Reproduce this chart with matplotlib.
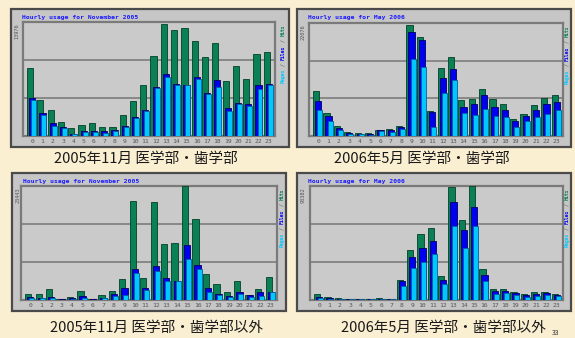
import matplotlib
matplotlib.use('Agg')
import numpy as np
import matplotlib.pyplot as plt
from matplotlib.patches import Rectangle

### Data (bar heights, percent of the axis top)
hours = list(range(24))

nov05_med_hits  = [60, 32, 23, 12.5, 7, 10, 11, 8, 8, 18, 31, 45, 70, 98, 93, 95, 83, 69, 82, 48, 61, 50, 72, 74]
nov05_med_files = [33, 20, 11, 7.5, 2, 4, 4, 4, 5, 8.6, 17, 23, 43, 54, 46, 45, 52, 38, 49, 25, 29, 28, 44.5, 46]
nov05_med_pages = [32, 18, 9, 7, 1.5, 3.6, 3.3, 3, 4.5, 8, 16, 22, 42, 52, 45, 45, 50, 37, 43, 22, 28, 26, 41, 45]

may06_med_hits  = [40, 20, 9, 3.6, 2.7, 2.4, 5.7, 6.3, 9, 98, 88, 22, 60, 70, 32, 32.5, 41.5, 33, 28, 15, 19.7, 27, 34, 36.4]
may06_med_files = [31, 18, 7, 2.7, 2, 1.8, 5, 5, 8, 92, 85, 21.5, 51, 59, 26, 28, 36, 26, 23, 13.4, 18, 23, 28, 30]
may06_med_pages = [23, 13, 5.7, 2, 1.5, 1.2, 4, 3.6, 6, 68, 61, 8, 38, 50, 20, 19, 24, 18, 16.4, 8.4, 13.4, 17, 19.7, 22.7]

nov05_oth_hits  = [5, 5, 9.6, 1, 2.4, 8, 1, 4, 8, 18.6, 87, 19.5, 86, 49.5, 50, 100, 71, 22.5, 13.8, 7.2, 16.8, 4.8, 10, 19.8]
nov05_oth_files = [2.7, 2, 2.7, 0.6, 1.5, 3.3, 0.6, 2, 5, 10.5, 27, 10.5, 29.4, 19, 17, 48.6, 31, 10.5, 5.7, 3.6, 6.6, 4.8, 7, 7]
nov05_oth_pages = [2, 1.5, 2, 0.3, 0.8, 2, 0.3, 1.5, 3.3, 4.5, 24, 8.4, 25.8, 16.5, 16.5, 36, 27, 7.2, 4.5, 2.7, 5, 2.7, 3.9, 7]

may06_oth_hits  = [5, 2.7, 1.8, 0.6, 0.6, 0.6, 1.5, 1, 17.8, 43.7, 57.5, 63, 21, 99, 70.5, 100, 26.8, 9.6, 10, 7, 5.7, 7.2, 7.2, 5]
may06_oth_files = [2.7, 1.8, 1.2, 0.6, 0.6, 0.6, 1.2, 0.8, 16.6, 37.3, 45.8, 52, 17.5, 86, 61.4, 82, 22.3, 7.5, 7.5, 6, 4.8, 5.4, 6.3, 4.8]
may06_oth_pages = [2, 1.2, 1, 0.6, 0.6, 0.6, 0.5, 0.5, 12.7, 28, 33.4, 40, 13.9, 65, 45.5, 64.5, 16.9, 5.7, 6, 4.5, 3, 3.9, 4.2, 3.3]

titles   = ['Hourly usage for November 2005', 'Hourly usage for May 2006',
            'Hourly usage for November 2005', 'Hourly usage for May 2006']
max_lbls = ['13976', '22076', '23443', '93382']
captions = ['2005年11月 医学部・歯学部', '2006年5月 医学部・歯学部',
            '2005年11月 医学部・歯学部以外', '2006年5月 医学部・歯学部以外']

panels = [
    (nov05_med_hits, nov05_med_files, nov05_med_pages),
    (may06_med_hits, may06_med_files, may06_med_pages),
    (nov05_oth_hits, nov05_oth_files, nov05_oth_pages),
    (may06_oth_hits, may06_oth_files, may06_oth_pages),
]

### Layout in pixels: frame (x0, y0, x1, y1), plot area (x0, y0, x1, y1), caption centre
W, H = 575, 338
frames = [(11, 9, 289, 147), (297, 9, 571, 147), (12, 173, 286, 311), (297, 173, 571, 311)]
plots  = [(23, 22, 275, 136), (309, 23, 563, 136), (21, 186, 277, 300), (310, 186, 563, 300)]
leg_x  = [283, 567, 282, 567]
caps   = [(146, 159), (422, 159), (157, 328), (443, 328)]

HIT_C, FILE_C, PAGE_C = '#0b8055', '#0000f0', '#00c8ff'
BG = '#fbefd2'

plt.rcParams['font.family'] = ['Noto Sans CJK JP', 'DejaVu Sans']

fig = plt.figure(figsize=(W/100, H/100), dpi=100)
fig.patch.set_facecolor(BG)


def fx(x):
    return x / W


def fy(y):
    return 1 - y / H


LEG_FS = 3.5
CHAR_PX = 0.6 * LEG_FS * 100 / 72   # width of one mono character in pixels

for k in range(4):
    hits, files, pages = panels[k]
    x0, y0, x1, y1 = frames[k]
    # outer webalizer frame
    fig.patches.append(Rectangle((fx(x0), fy(y1)), fx(x1 - x0), (y1 - y0)/H,
                                 transform=fig.transFigure, facecolor='#c6c6c6',
                                 edgecolor='#4a4a4a', linewidth=1.6, zorder=0))
    px0, py0, px1, py1 = plots[k]
    ax = fig.add_axes([fx(px0), fy(py1), fx(px1 - px0), (py1 - py0)/H])
    ax.set_zorder(2)
    ax.set_facecolor('#cacaca')
    for s in ax.spines.values():
        s.set_color('#7a7a7a')
        s.set_linewidth(1.6)

    h = np.array(hours)
    ax.bar(h, hits, width=0.6, align='edge', color=HIT_C, edgecolor='#03402a', linewidth=0.6, zorder=3)
    ax.bar(h + 0.2, files, width=0.6, align='edge', color=FILE_C, edgecolor='#000060', linewidth=0.6, zorder=4)
    ax.bar(h + 0.4, pages, width=0.48, align='edge', color=PAGE_C, edgecolor='#0060a0', linewidth=0.6, zorder=5)

    ax.set_xlim(-0.39, 24.1)
    ax.set_ylim(0, 100)
    for g in [100/3, 200/3]:
        ax.axhline(g, color='#7c7c7c', linewidth=1.2, zorder=1)
    ax.set_xticks(h + 0.5)
    ax.set_xticklabels([str(i) for i in hours], fontsize=4.6, color='#555555',
                       family='DejaVu Sans Mono')
    ax.tick_params(axis='x', length=0, pad=2)
    ax.set_yticks([])

    # title in the frame corner
    fig.text(fx(x0 + 11), fy(y0 + 8), titles[k], fontsize=4.6, color='#1a1aff',
             family='DejaVu Sans Mono', fontweight='bold', va='center', ha='left', zorder=3)
    # max value on the left
    fig.text(fx(x0 + 6), fy(py0 + 1), max_lbls[k], fontsize=3.8, color='#555555',
             family='DejaVu Sans Mono', rotation=90, va='top', ha='center', zorder=3)
    # legend on the right, reading upwards
    lx = fx(leg_x[k])
    base = py0 + 61
    pos = 0
    for word, col in [('Pages', PAGE_C), (' / ', '#555555'), ('Files', FILE_C),
                      (' / ', '#555555'), ('Hits', HIT_C)]:
        if word == ' / ':
            fig.text(lx, fy(base - (pos + 1) * CHAR_PX), '/', fontsize=LEG_FS, color=col,
                     family='DejaVu Sans Mono', rotation=90, va='bottom', ha='center', zorder=3)
        else:
            fig.text(lx, fy(base - pos * CHAR_PX), word, fontsize=LEG_FS, color=col,
                     family='DejaVu Sans Mono', fontweight='bold', rotation=90,
                     va='bottom', ha='center', zorder=3)
        pos += len(word)

    cx, cy = caps[k]
    fig.text(fx(cx), fy(cy), captions[k], fontsize=10.5, color='#1a1a1a',
             ha='center', va='center')

# page number in the corner
fig.text(fx(556), fy(333), '33', fontsize=5, color='#333333', ha='center', va='center')

fig.savefig('out.png', dpi=100, facecolor=BG)
